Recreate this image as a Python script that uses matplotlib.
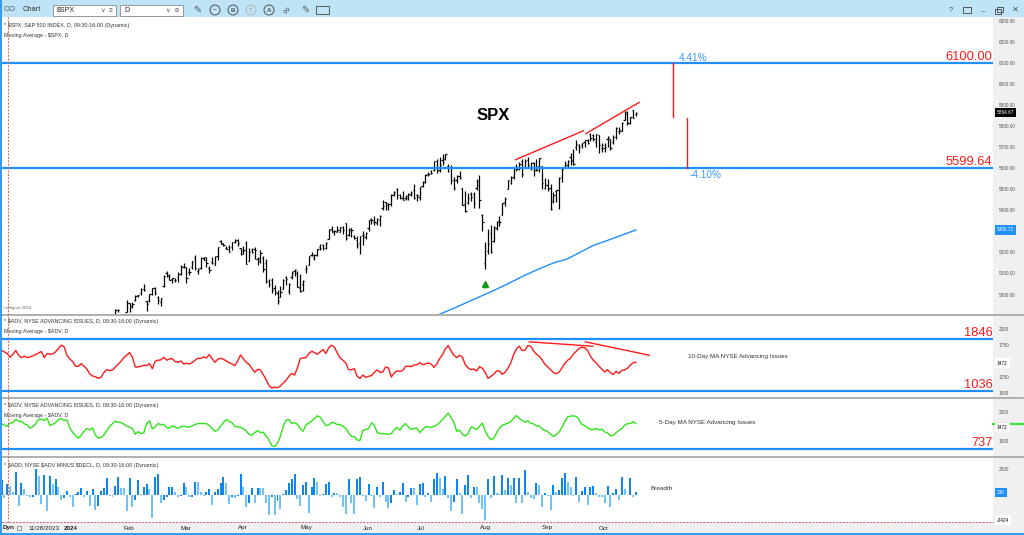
import numpy as np
import pandas as pd
import matplotlib
matplotlib.use('Agg')
import matplotlib.pyplot as plt
from matplotlib.patches import Rectangle, Ellipse
from matplotlib.lines import Line2D
from matplotlib.transforms import blended_transform_factory as blend

plt.rcParams['font.family'] = ['Liberation Sans', 'DejaVu Sans']
plt.rcParams['text.parse_math'] = False

W, H = 1024, 535

# ---------------- data ----------------
holidays = ['2023-12-25', '2024-01-01', '2024-01-15', '2024-02-19', '2024-03-29',
            '2024-05-27', '2024-06-19', '2024-07-04', '2024-09-02']
days = pd.bdate_range('2023-11-28', '2024-10-18')
days = days[~days.isin(pd.to_datetime(holidays))]

price_start = '2024-01-22'   # earlier bars sit below the visible price range
opens = [
    4853, 4856, 4888, 4886, 4888, 4892, 4926, 4900,
    4862, 4916, 4958, 4951, 4973, 4996, 5005, 5027, 4967, 4976, 5004, 5031, 4989, 4964, 5039, 5101, 5093, 5074, 5067, 5085,
    5098, 5131, 5130, 5109, 5133, 5174, 5112, 5124, 5174, 5176, 5124, 5154, 5139, 5181, 5253, 5243, 5220, 5228, 5226, 5248,
    5258, 5222, 5194, 5244, 5159, 5211, 5218, 5170, 5172, 5172, 5150, 5065, 5068, 5032, 5006, 4988, 5028, 5084, 5019, 5084, 5114, 5104,
    5030, 5050, 5122, 5142, 5187, 5173, 5190, 5225, 5233, 5222, 5263, 5311, 5303, 5298, 5298, 5320, 5340, 5282, 5315, 5278, 5260, 5244,
    5283, 5275, 5315, 5357, 5344, 5341, 5353, 5409, 5441, 5424, 5431, 5477, 5500, 5471, 5460, 5461, 5460, 5473, 5499,
    5471, 5462, 5514, 5537, 5572, 5585, 5591, 5636, 5590, 5638, 5645, 5610, 5608, 5543, 5544, 5565, 5505, 5429, 5434, 5477, 5479, 5505,
    5538, 5376, 5152, 5207, 5294, 5252, 5314, 5351, 5377, 5442, 5501, 5530, 5557, 5603, 5602, 5635, 5603, 5640, 5603, 5624, 5608, 5613,
    5612, 5506, 5521, 5507, 5443, 5491, 5496, 5557, 5604, 5615, 5655, 5641, 5702, 5709, 5712, 5727, 5733, 5762, 5756, 5727,
    5757, 5698, 5698, 5737, 5737, 5724, 5751, 5779, 5775, 5829, 5867, 5815, 5875, 5860]
highs = [
    4868, 4866, 4903, 4898, 4907, 4929, 4931, 4906,
    4907, 4976, 4958, 4965, 4999, 5000, 5030, 5048, 4971, 5002, 5032, 5038, 4993, 4983, 5094, 5111, 5097, 5080, 5077, 5105,
    5140, 5149, 5132, 5127, 5160, 5189, 5125, 5180, 5180, 5179, 5137, 5176, 5181, 5225, 5261, 5246, 5230, 5236, 5250, 5265,
    5263, 5223, 5230, 5256, 5223, 5219, 5225, 5179, 5212, 5181, 5169, 5073, 5077, 5047, 5020, 5039, 5076, 5089, 5057, 5114, 5123, 5111,
    5096, 5069, 5140, 5181, 5200, 5191, 5215, 5239, 5238, 5250, 5311, 5325, 5305, 5325, 5322, 5325, 5342, 5315, 5315, 5282, 5280, 5280,
    5302, 5299, 5355, 5362, 5375, 5366, 5376, 5447, 5442, 5433, 5477, 5490, 5505, 5478, 5490, 5472, 5483, 5490, 5524,
    5480, 5510, 5539, 5571, 5583, 5590, 5636, 5642, 5655, 5666, 5669, 5622, 5615, 5557, 5570, 5586, 5508, 5492, 5481, 5487, 5487, 5551,
    5566, 5383, 5250, 5312, 5330, 5327, 5350, 5371, 5436, 5463, 5546, 5562, 5608, 5621, 5632, 5643, 5642, 5652, 5632, 5628, 5646, 5651,
    5613, 5552, 5547, 5523, 5485, 5497, 5560, 5600, 5636, 5637, 5671, 5690, 5733, 5716, 5721, 5735, 5741, 5767, 5765, 5763,
    5758, 5720, 5718, 5753, 5740, 5757, 5797, 5796, 5822, 5871, 5871, 5843, 5879, 5866]
lows = [
    4844, 4844, 4865, 4870, 4881, 4888, 4916, 4845,
    4853, 4916, 4918, 4935, 4969, 4988, 4999, 5016, 4920, 4963, 4999, 4999, 4956, 4946, 5038, 5081, 5068, 5057, 5058, 5061,
    5094, 5128, 5057, 5092, 5121, 5117, 5099, 5122, 5162, 5130, 5104, 5146, 5138, 5163, 5240, 5229, 5216, 5203, 5213, 5246,
    5229, 5190, 5192, 5146, 5157, 5197, 5168, 5139, 5150, 5108, 5053, 5037, 5007, 4999, 4953, 4988, 5028, 5047, 5001, 5074, 5089, 5035,
    5013, 5019, 5101, 5142, 5182, 5165, 5182, 5210, 5212, 5217, 5263, 5296, 5284, 5298, 5296, 5286, 5257, 5279, 5273, 5262, 5222, 5191,
    5234, 5262, 5303, 5335, 5331, 5331, 5327, 5404, 5403, 5403, 5420, 5468, 5455, 5452, 5447, 5447, 5451, 5469, 5452,
    5444, 5451, 5513, 5531, 5563, 5574, 5587, 5576, 5584, 5614, 5639, 5584, 5523, 5498, 5529, 5551, 5425, 5390, 5430, 5444, 5409, 5498,
    5410, 5302, 5119, 5194, 5196, 5250, 5307, 5325, 5377, 5419, 5501, 5525, 5550, 5585, 5592, 5560, 5599, 5603, 5594, 5562, 5585, 5581,
    5503, 5503, 5490, 5403, 5434, 5442, 5406, 5535, 5600, 5604, 5615, 5615, 5687, 5674, 5696, 5699, 5714, 5728, 5728, 5703,
    5674, 5678, 5677, 5703, 5687, 5714, 5740, 5763, 5775, 5829, 5805, 5812, 5840, 5847]
closes = [
    4850, 4865, 4869, 4894, 4891, 4928, 4925, 4846,
    4906, 4959, 4943, 4954, 4995, 4998, 5027, 5022, 4953, 5001, 5030, 5006, 4976, 4982, 5087, 5089, 5070, 5078, 5070, 5096,
    5137, 5131, 5079, 5105, 5157, 5124, 5118, 5175, 5165, 5150, 5117, 5149, 5179, 5225, 5242, 5234, 5218, 5204, 5248, 5254,
    5244, 5206, 5211, 5147, 5204, 5202, 5210, 5161, 5199, 5123, 5062, 5051, 5022, 5011, 4967, 5011, 5071, 5072, 5048, 5100, 5116, 5036,
    5018, 5064, 5128, 5181, 5188, 5188, 5214, 5223, 5221, 5247, 5308, 5297, 5303, 5308, 5321, 5307, 5268, 5305, 5306, 5267, 5235, 5278,
    5283, 5291, 5354, 5353, 5347, 5361, 5375, 5421, 5434, 5432, 5473, 5487, 5473, 5465, 5448, 5469, 5478, 5483, 5460,
    5475, 5509, 5537, 5567, 5573, 5577, 5634, 5585, 5615, 5631, 5667, 5588, 5545, 5505, 5564, 5556, 5427, 5399, 5459, 5464, 5436, 5522,
    5447, 5347, 5186, 5240, 5200, 5319, 5344, 5344, 5434, 5455, 5543, 5554, 5608, 5597, 5621, 5571, 5635, 5617, 5626, 5592, 5592, 5648,
    5529, 5520, 5503, 5408, 5471, 5496, 5554, 5596, 5626, 5633, 5635, 5618, 5714, 5703, 5719, 5733, 5722, 5745, 5738, 5762,
    5709, 5710, 5700, 5751, 5696, 5751, 5792, 5780, 5815, 5860, 5815, 5842, 5841, 5864.67]

ma_dates = ['2024-07-10', '2024-07-19', '2024-07-26', '2024-08-02', '2024-08-08', '2024-08-16',
            '2024-08-23', '2024-08-30', '2024-09-09', '2024-09-16', '2024-09-23', '2024-09-27',
            '2024-10-07', '2024-10-14', '2024-10-18']
ma_values = [4895, 4935, 4965, 4995, 5019, 5058, 5092, 5122, 5150, 5170, 5205, 5233, 5262, 5287, 5306.72]

levels_price = [6100.00, 5599.64]
levels_adv10 = [1846, 1036]
levels_adv5 = [737]

# 10-day MA of NYSE advancing issues (red)
adv10 = [
    1682, 1672, 1646, 1620, 1563, 1609, 1667, 1594, 1557, 1578,
    1557, 1568, 1583, 1604, 1630, 1651, 1557, 1620, 1609, 1615,
    1646, 1698, 1750, 1724, 1589, 1536, 1495, 1422, 1422, 1464,
    1422, 1380, 1302, 1271, 1260, 1234, 1255, 1328, 1370, 1354,
    1365, 1411, 1453, 1500, 1557, 1594, 1635, 1563, 1411, 1411,
    1422, 1438, 1432, 1464, 1385, 1500, 1516, 1521, 1563, 1516,
    1536, 1542, 1495, 1484, 1505, 1458, 1469, 1458, 1479, 1516,
    1547, 1542, 1568, 1552, 1604, 1542, 1484, 1531, 1547, 1531,
    1505, 1479, 1458, 1432, 1505, 1599, 1536, 1484, 1453, 1391,
    1328, 1375, 1365, 1292, 1214, 1125, 1083, 1099, 1089, 1115,
    1162, 1203, 1266, 1312, 1286, 1396, 1542, 1552, 1557, 1620,
    1656, 1635, 1609, 1646, 1682, 1620, 1708, 1750, 1719, 1630,
    1552, 1516, 1474, 1370, 1370, 1385, 1266, 1234, 1286, 1250,
    1266, 1276, 1328, 1365, 1328, 1333, 1411, 1396, 1255, 1318,
    1349, 1344, 1354, 1422, 1422, 1417, 1443, 1443, 1479, 1448,
    1458, 1474, 1458, 1406, 1458, 1542, 1604, 1693, 1745, 1661,
    1594, 1557, 1594, 1563, 1448, 1396, 1370, 1380, 1349, 1417,
    1391, 1328, 1234, 1266, 1297, 1349, 1349, 1297, 1328, 1391,
    1474, 1604, 1693, 1734, 1667, 1672, 1745, 1734, 1661, 1609,
    1578, 1521, 1453, 1411, 1370, 1323, 1307, 1333, 1396, 1469,
    1516, 1547, 1609, 1656, 1698, 1719, 1708, 1667, 1578, 1516,
    1474, 1422, 1380, 1333, 1370, 1323, 1292, 1344, 1312, 1359,
    1365, 1391, 1438, 1479, 1484]

# 5-day MA of NYSE advancing issues (green)
adv5 = [
    1655, 1609, 1552, 1517, 1621, 1655, 1747, 1690, 1690, 1598,
    1563, 1448, 1506, 1598, 1747, 1759, 1713, 1793, 1540, 1586,
    1644, 1747, 1770, 1724, 1724, 1448, 1310, 1195, 1115, 1207,
    1345, 1437, 1391, 1460, 1207, 1115, 1138, 1218, 1368, 1506,
    1609, 1690, 1655, 1644, 1586, 1517, 1494, 1437, 1241, 1333,
    1264, 1287, 1609, 1701, 1425, 1494, 1609, 1563, 1586, 1471,
    1448, 1529, 1494, 1437, 1506, 1517, 1506, 1483, 1529, 1575,
    1609, 1609, 1609, 1609, 1540, 1448, 1345, 1391, 1517, 1644,
    1747, 1690, 1644, 1517, 1494, 1483, 1437, 1356, 1230, 1218,
    1299, 1368, 1299, 1310, 1184, 1046, 851, 828, 943, 1172,
    1517, 1724, 1747, 1609, 1644, 1586, 1425, 1345, 1563, 1632,
    1690, 1782, 1874, 1828, 1690, 1540, 1563,
    1644, 1632, 1575, 1575, 1517, 1448, 1287, 1172, 1161, 1046,
    1035, 1379, 1402, 1437, 1632, 1563, 1310, 1264, 1264, 1264,
    1241, 1264, 1391, 1483, 1379, 1517, 1609, 1494, 1414, 1437,
    1460, 1299, 1402, 1506, 1494, 1471, 1517, 1563, 1644, 1747,
    1851, 1966, 1805, 1655, 1345, 1379, 1241, 1184, 1264, 1494,
    1460, 1402, 1517, 1632, 1356, 1172, 1057, 1103, 1287, 1460,
    1552, 1586, 1621, 1678, 1793, 1885, 1782, 1713, 1655, 1701,
    1621, 1598, 1529, 1529, 1425, 1379, 1333, 1241, 1172, 1230,
    1322, 1483, 1678, 1839, 1862, 1874, 1851, 1747, 1575, 1540,
    1460, 1414, 1402, 1448, 1391, 1414, 1322, 1287, 1195, 1207,
    1299, 1368, 1437, 1552, 1609, 1609, 1678, 1609]

# $ADD breadth (advancers minus decliners)
add_vals = [
    600, 1408, -352, 1024, 832, 300, 2144, -1088, 1088, 512,
    -128, -200, -192, 2432, 1792, -928, 1888, -1536, 1824, 1024,
    1504, 768, -512, -288, 350, -192, -1152, 40, 224, 672,
    -192, 384, -1056, 512, -1472, -1088, 384, 672, 1632, -128,
    -224, 832, 1696, 672, 672, -1536, 1632, -1152, -512, 1408,
    32, 768, 1024, 512, -2272, 1728, 1952, -832, -512, -256,
    704, 768, 288, -256, -128, 1088, 768, -256, -192, 1248,
    1216, 224, -128, 288, 576, -992, 256, 544, 1152, 1728,
    1088, -896, -256, -288, -128, 1984, 768, -1152, -768, 608,
    -832, 608, 608, 608, -832, -1952, -192, -1952, -608, -1408,
    64, 448, 1088, 1472, 1952, -416, -1056, 928, 1248, -1792,
    768, 1632,
    1248, -128, 64, 1024, 1216, -192, 192, 128, -192, -1152,
    -1888, 1472, -832, -1888, 1536, 1664, -128, -576, 1024, -128,
    -1248, 768, -192, 1216, -672, -1248, -768, 448, 64, 288,
    1152, -672, -192, 672, 608, -992, 1024, 1152, -256, 192,
    -672, 1472, 2048, 1568, 512, 1824, -352, -1536, -672, 1472,
    128, -1856, 960, 1856, -352, 768, 768, -832, -1408, -2424,
    1472, -352, 1792, 192, 64, 1856, 448, 1632, 896, 1568,
    -768, 1568, -768, 2336, 288, -288, -448, 1152, 896, -1152,
    128, -128, -1472, 960, 256, 448, 1568, 2048, 1248, 768,
    -128, 1728, -736, 384, 704, -992, 768, 864, 192, -192,
    -192, -768, 832, -1216, 192, 512, -512, 1728, 576, -64,
    1568, -192, 230]

adv_last = 1472
# drawn annotations, in bar-index / value units
spx_trend_x = [(181.7, 205.5), (206.4, 225.1)]
spx_trend_y = [(5641, 5778), (5765, 5913)]
proj_x = [237.0, 242.0]
proj_y = [(5842, 6100.00), (5839, 5599.64)]
adv_trend_x = [(186.5, 208.8), (206.2, 228.7)]
adv_trend_y = [(1802, 1734), (1802, 1594)]
arrow_date, arrow_price = '2024-08-05', 5048

# ---------------- figure ----------------
n = len(days)
pos = {d: i for i, d in enumerate(days)}
def ix(s):
    return pos[pd.Timestamp(s)]

fig = plt.figure(figsize=(W / 100, H / 100), dpi=100)
fig.patch.set_facecolor('white')

def fx(px):
    return px / W

def fy(py):
    return 1 - py / H

def panel(top, bottom, ylim):
    ax = fig.add_axes([fx(2), fy(bottom), (993 - 2) / W, (bottom - top) / H])
    ax.set_xlim(1.16, 349.5)
    ax.set_ylim(*ylim)
    for s in ax.spines.values():
        s.set_visible(False)
    ax.set_xticks([])
    ax.yaxis.tick_right()
    ax.tick_params(axis='y', length=0, pad=4, labelsize=3.4, labelcolor='#555555')
    return ax

BLUE = '#1e90ff'
RED = '#ff1a1a'

# window chrome
fig.add_artist(Rectangle((0, fy(17)), 1, 17 / H, transform=fig.transFigure, fc='#bfe4f7', ec='none', zorder=-2))
fig.add_artist(Rectangle((fx(993), fy(535)), 31 / W, (535 - 17) / H, transform=fig.transFigure,
                         fc='#f0f0f0', ec='none', zorder=-2))
fig.add_artist(Rectangle((0, fy(533)), 1, 11 / H, transform=fig.transFigure, fc='#f0f0f0', ec='none', zorder=-2))
fig.add_artist(Rectangle((0, 0), 1, 2 / H, transform=fig.transFigure, fc='#3a9ae8', ec='none', zorder=6))
fig.add_artist(Rectangle((0, 0), 2 / W, 1, transform=fig.transFigure, fc='#3a9ae8', ec='none', zorder=6))

# ---- price panel
axp = panel(17, 314.5, (4905, 6319))
xp = np.arange(ix(price_start), n)
axp.vlines(xp, lows, highs, color='black', lw=0.9)
axp.hlines(opens, xp - 0.45, xp, color='black', lw=0.9)
axp.hlines(closes, xp, xp + 0.45, color='black', lw=0.9)
axp.plot([ix(d) for d in ma_dates], ma_values, color=BLUE, lw=1.0)
for lv in levels_price:
    axp.axhline(lv, color=BLUE, lw=1.6)
for (x0, x1), (y0, y1) in zip(spx_trend_x, spx_trend_y):
    axp.plot([x0, x1], [y0, y1], color=RED, lw=1.0)
for xx, (y0, y1) in zip(proj_x, proj_y):
    axp.plot([xx, xx], [y0, y1], color=RED, lw=1.0)
axp.plot(ix(arrow_date), arrow_price, marker='^', ms=4, color='#0a9a0a')
axp.plot(ix(arrow_date), arrow_price - 8, marker='s', ms=2, color='#0a9a0a')
axp.set_yticks(np.arange(5000, 6301, 100))
axp.set_yticklabels([f'{v:.2f}' for v in np.arange(5000, 6301, 100)])
tp = blend(axp.transAxes, axp.transData)
axp.text(0.9995, 6100, '6100.00', transform=tp, ha='right', va='bottom', color=RED, fontsize=9.3)
axp.text(0.9995, 5599.64, '5599.64', transform=tp, ha='right', va='bottom', color=RED, fontsize=9.3)
axp.text(239.1, 6124, '4.41%', color='#3399ff', fontsize=7.2, va='center')
axp.text(243.0, 5567, '-4.10%', color='#3399ff', fontsize=7.2, va='center')
axp.text(173.7, 5852, 'SPX', fontsize=12, fontweight='bold', ha='center', va='center')
axp.text(1.004, closes[-1], f'{closes[-1]:.2f}', transform=tp, fontsize=3.4, color='white', va='center',
         clip_on=False, bbox=dict(boxstyle='square,pad=0.45', fc='black', ec='none'))
axp.text(1.004, ma_values[-1], f'{ma_values[-1]:.2f}', transform=tp, fontsize=3.4, color='white', va='center',
         clip_on=False, bbox=dict(boxstyle='square,pad=0.45', fc=BLUE, ec='none'))

# ---- 10-day MA advancing issues
ax10 = panel(315, 397.5, (937, 2219))
ax10.plot(np.arange(n), adv10, color=RED, lw=1.0)
for lv in levels_adv10:
    ax10.axhline(lv, color=BLUE, lw=1.6)
for (x0, x1), (y0, y1) in zip(adv_trend_x, adv_trend_y):
    ax10.plot([x0, x1], [y0, y1], color=RED, lw=1.0)
ax10.set_yticks([1000, 1250, 1500, 1750, 2000])
t10 = blend(ax10.transAxes, ax10.transData)
for lv in levels_adv10:
    ax10.text(0.9995, lv, f'{lv}', transform=t10, ha='right', va='bottom', color=RED, fontsize=9.3)
ax10.text(1.004, adv_last, f'{adv_last}', transform=t10, fontsize=3.4, va='center', clip_on=False,
          bbox=dict(boxstyle='square,pad=0.45', fc='white', ec='none'))
ax10.text(0.6925, 0.5, '10-Day MA NYSE Advancing Issues', transform=ax10.transAxes, fontsize=4.5,
          color='#333333', va='center')

# ---- 5-day MA advancing issues
ax5 = panel(398, 456.5, (483, 2483))
ax5.plot(np.arange(n), adv5, color='#2ee61a', lw=1.0)
for lv in levels_adv5:
    ax5.axhline(lv, color=BLUE, lw=1.6)
ax5.set_yticks([1000, 1500, 2000])
t5 = blend(ax5.transAxes, ax5.transData)
ax5.text(0.9995, levels_adv5[0], f'{levels_adv5[0]}', transform=t5, ha='right', va='bottom', color=RED, fontsize=9.3)
ax5.plot([1.0, 1.0313], [adv5[-1], adv5[-1]], transform=t5, color='#33e633', lw=1.6, clip_on=False)
ax5.text(1.004, adv_last, f'{adv_last}', transform=t5, fontsize=3.4, va='center', clip_on=False,
         bbox=dict(boxstyle='square,pad=0.45', fc='white', ec='none'))
ax5.text(0.6625, 0.58, '5-Day MA NYSE Advancing Issues', transform=ax5.transAxes, fontsize=4.5,
         color='#333333', va='center')

# ---- breadth
axa = panel(457, 522, (-2616, 3624))
prev = np.r_[add_vals[0], add_vals[:-1]]
cols = np.where(np.array(add_vals) > prev, '#0d86f2', '#6ec3fa')
axa.bar(np.arange(n), add_vals, width=0.7, color=cols)
axa.set_yticks([2500])
ta = blend(axa.transAxes, axa.transData)
axa.text(1.004, add_vals[-1], f'{add_vals[-1]}', transform=ta, fontsize=3.4, color='white', va='center',
         clip_on=False, bbox=dict(boxstyle='square,pad=0.45', fc=BLUE, ec='none'))
axa.text(1.004, min(add_vals), f'{min(add_vals)}', transform=ta, fontsize=3.4, va='center',
         clip_on=False, bbox=dict(boxstyle='square,pad=0.45', fc='white', ec='none'))
axa.text(0.654, 0.52, 'Breadth', transform=axa.transAxes, fontsize=4.6, color='#333333', va='center')

# panel separators, cursor lines
for py in (314.5, 397.5, 456.5):
    fig.add_artist(Line2D([fx(2), 1], [fy(py)] * 2, color='#a9a9a9', lw=1.3, zorder=5))
fig.add_artist(Line2D([fx(7.5)] * 2, [fy(17), fy(522)], color='#e05a5a', lw=0.7, ls=(0, (2, 1.5)), zorder=5))
fig.add_artist(Line2D([fx(2), fx(993)], [fy(522)] * 2, color='#e05a5a', lw=0.7, ls=(0, (2, 1.5)), zorder=5))

# panel headers
hdr = [(26, '* $SPX, S&P 500 INDEX, D, 09:30-16:00 (Dynamic)'),
       (35, 'Moving Average - $SPX, D'),
       (322, '* $ADV, NYSE ADVANCING ISSUES, D, 09:30-16:00 (Dynamic)'),
       (331, 'Moving Average - $ADV, D'),
       (406, '* $ADV, NYSE ADVANCING ISSUES, D, 09:30-16:00 (Dynamic)'),
       (415, 'Moving Average - $ADV, D'),
       (465.5, '* $ADD, NYSE $ADV MINUS $DECL, D, 09:30-16:00 (Dynamic)')]
for py, s in hdr:
    fig.text(fx(4), fy(py), s, fontsize=3.9, color='#333333', va='center')
fig.text(fx(3), fy(308), '\u00a9eSignal, 2024', fontsize=3.0, color='#666666', va='center')

# date strip
tb = blend(axa.transData, fig.transFigure)
fig.text(fx(2.5), fy(528), 'Dyn', fontsize=4.6, fontweight='bold', color='#222222', va='center')
fig.add_artist(Rectangle((fx(17), fy(530)), 4 / W, 4 / H, transform=fig.transFigure, fc='none', ec='#777777', lw=0.5))
fig.text(fx(28), fy(528), '11/28/2023', fontsize=4.5, color='#222222', va='center')
month_first = pd.Series(np.arange(n), index=days).groupby([days.year, days.month]).first()
for (yr, mo), i in month_first.items():
    if yr == 2023:
        continue
    lab = '2024' if mo == 1 else days[i].strftime('%b')
    axa.text(i, fy(528), lab, transform=tb, fontsize=4.5, color='#222222', va='center', clip_on=False,
             fontweight='bold' if mo == 1 else 'normal')

# toolbar
fig.text(fx(4), fy(9.5), 'OO', fontsize=5.5, color='#555555', va='center')
fig.text(fx(23), fy(9.5), 'Chart', fontsize=5.4, color='#333333', va='center')
for x0, lab, tail in [(53, '$SPX', '\u2228  \u2261'), (120, 'D', '\u2228  \u2298')]:
    fig.add_artist(Rectangle((fx(x0), fy(15.5)), 63 / W, 10.5 / H, transform=fig.transFigure,
                             fc='white', ec='#8a8a8a', lw=0.6))
    fig.text(fx(x0 + 4), fy(10.3), lab, fontsize=5.0, color='#222222', va='center')
    fig.text(fx(x0 + 60), fy(10.3), tail, fontsize=4.6, color='#555555', va='center', ha='right')
fig.text(fx(197), fy(10), '\u270e', fontsize=7, color='#555555', va='center', ha='center')
for cx, lab, c in [(215, '~', '#555555'), (233, 'B', '#555555'), (251, 'T', '#b5b5b5'), (269, 'A', '#555555')]:
    fig.add_artist(Ellipse((fx(cx), fy(10)), 10 / W, 10 / H, transform=fig.transFigure, fc='none', ec=c, lw=0.7))
    fig.text(fx(cx), fy(10), lab, fontsize=4.5, color=c, va='center', ha='center', fontweight='bold')
fig.text(fx(287), fy(10), '\u221e', fontsize=7, color='#555555', va='center', ha='center', rotation=45)
fig.text(fx(305), fy(10), '\u270e', fontsize=7, color='#555555', va='center', ha='center')
fig.add_artist(Rectangle((fx(316), fy(14)), 13 / W, 8 / H, transform=fig.transFigure, fc='none', ec='#555555', lw=0.7))
fig.text(fx(951), fy(10), '?', fontsize=5.5, color='#555555', va='center', ha='center')
fig.add_artist(Rectangle((fx(963), fy(13)), 8 / W, 6 / H, transform=fig.transFigure, fc='none', ec='#555555', lw=0.7))
fig.text(fx(982), fy(9), '_', fontsize=6, color='#555555', va='center', ha='center')
fig.add_artist(Rectangle((fx(995), fy(14)), 6 / W, 5 / H, transform=fig.transFigure, fc='none', ec='#555555', lw=0.7))
fig.add_artist(Rectangle((fx(997), fy(12)), 6 / W, 5 / H, transform=fig.transFigure, fc='none', ec='#555555', lw=0.7))
fig.text(fx(1015), fy(10), '\u2715', fontsize=6, color='#555555', va='center', ha='center')

fig.savefig('out.png', dpi=100)
